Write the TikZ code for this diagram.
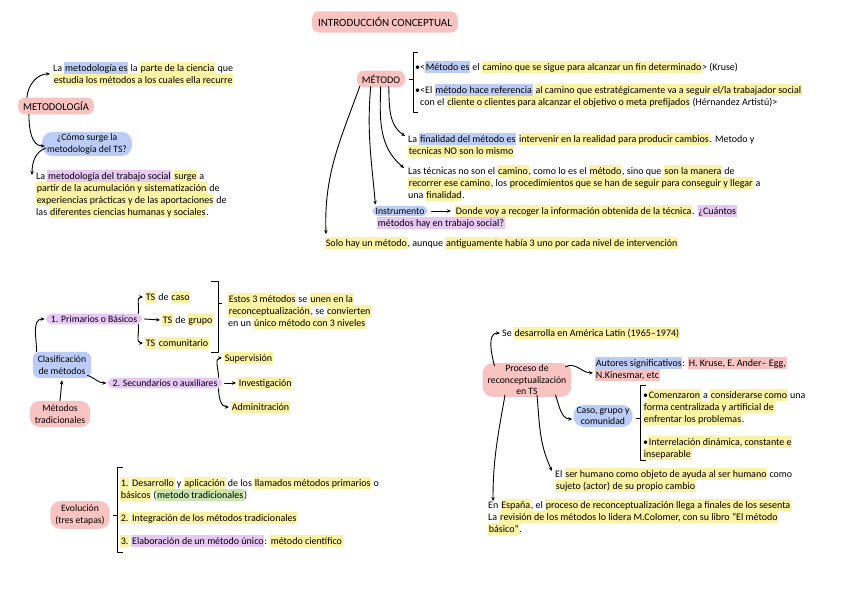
\documentclass[tikz,border=0pt]{standalone}
\usepackage{fontspec}
\setmainfont{Carlito}
\usepackage{tikz}
\usetikzlibrary{arrows.meta}
\usepackage{xcolor}

\definecolor{boxpink}{HTML}{F8C3C1}
\definecolor{boxblue}{HTML}{BBCDF7}
\definecolor{boxpurple}{HTML}{E7C7F3}
\definecolor{hlyellow}{HTML}{FBF2A4}
\definecolor{hlgreen}{HTML}{C9E6B0}

\newcommand{\hlbox}[2]{{\setlength{\fboxsep}{0.7pt}\colorbox{#1}{\vphantom{Áy}#2}}}
\newcommand{\hlY}[1]{\hlbox{hlyellow}{#1}}
\newcommand{\hlB}[1]{\hlbox{boxblue}{#1}}
\newcommand{\hlP}[1]{\hlbox{boxpurple}{#1}}
\newcommand{\hlG}[1]{\hlbox{hlgreen}{#1}}
\newcommand{\hlR}[1]{\hlbox{boxpink}{#1}}

\tikzset{
  txt/.style={inner sep=0pt, align=left, font=\fontsize{10}{12}\selectfont},
  blob/.style={rounded corners=7pt, inner xsep=5pt, inner ysep=4pt, align=center,
    font=\fontsize{9.7}{11.5}\selectfont},
  pinkbox/.style={blob, fill=boxpink},
  bluebox/.style={blob, fill=boxblue},
  purplebox/.style={blob, fill=boxpurple, inner ysep=2pt},
  conn/.style={-{Stealth[length=4pt,width=3.5pt]}, line width=0.9pt, line cap=round},
  brk/.style={line width=0.9pt, line join=round}
}

\begin{document}
\begin{tikzpicture}[x=1pt, y=-1pt]

    \useasboundingbox (0,0) rectangle (848,599);

    % ==========================================
    % TITLE AND METODOLOGIA
    % ==========================================

    \node[pinkbox, font=\fontsize{11}{13}\selectfont, inner xsep=6pt, inner ysep=6pt] (title) at (385,22) {INTRODUCCIÓN CONCEPTUAL};

    \node[pinkbox, font=\fontsize{10.5}{12}\selectfont] (metodologia) at (56,106) {METODOLOGÍA};
    \node[txt, anchor=north west] (defmet) at (53,62)
      {La \hlB{metodología es} la \hlY{parte de la ciencia} que\\
       \hlY{estudia los métodos a los cuales ella recurre}};

    \node[bluebox, rounded corners=10pt, inner ysep=2pt] (surge) at (87,144)
      {¿Cómo surge la\\metodología del TS?};
    \node[txt, anchor=north west] (surgetxt) at (36,170)
      {La \hlP{metodología del trabajo social} \hlY{surge} a\\
       \hlY{partir de la acumulación y sistematización} de\\
       \hlY{experiencias prácticas y de las aportaciones} de\\
       las \hlY{diferentes ciencias humanas y sociales}.};

    \draw[conn] ([xshift=9pt]metodologia.north west) to[out=85,in=180] ([xshift=-3pt]defmet.west);
    \draw[conn] ([xshift=11pt]metodologia.south west) to[out=-90,in=180] ([xshift=3pt,yshift=-2pt]surge.west);
    \draw[conn] ([xshift=4pt,yshift=-4pt]surge.west) to[out=200,in=90] ([xshift=-4pt,yshift=-5pt]surgetxt.north west);

    % ==========================================
    % METODO
    % ==========================================

    \node[pinkbox, font=\fontsize{10.2}{12}\selectfont] (metodo) at (381,79) {MÉTODO};

    % bracket with the two definitions
    \draw[brk] (418,52) -- (413,52) -- (413,112) -- (418,112);
    \draw[brk] (413,79) -- (409,79);

    \node[txt, anchor=west] (bulA) at (415,67)
      {•<\hlB{Método es} el \hlY{camino que se sigue para alcanzar un fin determinado}> (Kruse)};
    \node[txt, anchor=north west] (bulB) at (415,84)
      {•<El \hlB{método hace referencia} \hlY{al camino que estratégicamente va a seguir el/la trabajador social}\\
       \hspace*{5pt}con el \hlY{cliente o clientes para alcanzar el objetivo o meta prefijados} (Hérnandez Artistú)>};

    \node[txt, anchor=north west] (finalidad) at (408,133)
      {La \hlB{finalidad del método es} \hlY{intervenir en la realidad para producir cambios}. Metodo y\\
       \hlY{tecnicas NO son lo mismo}};
    \node[txt, anchor=north west] (tecnicas) at (408,165)
      {Las técnicas no son el \hlY{camino}, como lo es el \hlY{método}, sino que \hlY{son la manera} de\\
       \hlY{recorrer ese camino}, los \hlY{procedimientos que se han de seguir para conseguir y llegar} a\\
       una \hlY{finalidad}.};

    \node[bluebox, rounded corners=6pt, inner xsep=3pt, inner ysep=2pt] (instr) at (400,211) {Instrumento};
    \node[txt, anchor=west] (donde) at (455,211)
      {\hlY{Donde voy a recoger la información obtenida de la técnica}. \hlP{¿Cuántos}};
    \node[txt, anchor=west] (cuantos) at (377,223) {\hlP{métodos hay en trabajo social?}};
    \draw[conn] (instr.east) ++(4pt,0) -- ([xshift=-4pt]donde.west);

    \node[txt, anchor=west] (solo) at (325,243)
      {\hlY{Solo hay un método}, aunque \hlY{antiguamente había 3 uno por cada nivel de intervención}};

    \draw[conn] ([xshift=3pt,yshift=1pt]metodo.south west) to[out=-110,in=92] ([xshift=1pt,yshift=3pt]solo.north west);
    \draw[conn] ([xshift=14pt,yshift=1pt]metodo.south west) to[out=-95,in=95] ([xshift=3pt,yshift=1pt]instr.north west);
    \draw[conn] ([xshift=24pt,yshift=1pt]metodo.south west) to[out=-92,in=140] ([xshift=-4pt,yshift=-3pt]tecnicas.north west);
    \draw[conn] ([xshift=32pt,yshift=1pt]metodo.south west) to[out=-88,in=145] ([xshift=-3pt,yshift=-3pt]finalidad.north west);

    % ==========================================
    % CLASIFICACION DE METODOS
    % ==========================================

    \node[bluebox] (clasif) at (62,365) {Clasificación\\de métodos};
    \node[pinkbox, rounded corners=10pt] (trad) at (60,414) {Métodos\\tradicionales};
    \draw[conn] (trad.north) -- ([yshift=-2pt]clasif.south);

    \node[purplebox] (prim) at (94,319) {1. Primarios o Básicos};
    \node[txt, anchor=west] (caso) at (145,297) {\hlY{TS} de \hlY{caso}};
    \node[txt, anchor=west] (grupo) at (162,320) {\hlY{TS} de \hlY{grupo}};
    \node[txt, anchor=west] (comun) at (145,343) {\hlY{TS} \hlY{comunitario}};

    \draw[conn] ([xshift=-6pt]clasif.north west) ++(10pt,0) to[out=90,in=180] ([xshift=-1pt]prim.west);
    \draw[conn] ([xshift=-4pt]prim.north east) to[out=80,in=180] ([xshift=-2pt]caso.west);
    \draw[conn] ([xshift=2pt]prim.east) -- ([xshift=-2pt]grupo.west);
    \draw[conn] ([xshift=-4pt]prim.south east) to[out=-80,in=180] ([xshift=-2pt]comun.west);

    % bracket joining the three primary methods
    \draw[brk] (211,281) -- (218,281) -- (218,352) -- (211,352);
    \draw[brk] (218,303) -- (222,303);

    \node[txt, anchor=north west] (unen) at (228,293)
      {\hlY{Estos 3 métodos} se \hlY{unen en la}\\
       \hlY{reconceptualización}, se \hlY{convierten}\\
       en un \hlY{único método con 3 niveles}};

    \node[purplebox] (secund) at (165,383) {2. Secundarios o auxiliares};
    \node[txt, anchor=west] (superv) at (224,358) {\hlY{Supervisión}};
    \node[txt, anchor=west] (invest) at (238,383) {\hlY{Investigación}};
    \node[txt, anchor=west] (admin) at (231,407) {\hlY{Adminitración}};

    \draw[conn] ([xshift=-4pt,yshift=3pt]clasif.south east) to[out=-20,in=180] ([xshift=-1pt]secund.west);
    \draw[conn] ([xshift=-4pt]secund.north east) to[out=90,in=180] ([xshift=-2pt]superv.west);
    \draw[conn] ([xshift=2pt]secund.east) -- ([xshift=-2pt]invest.west);
    \draw[conn] ([xshift=-4pt]secund.south east) to[out=-90,in=180] ([xshift=-2pt]admin.west);

    % ==========================================
    % EVOLUCION
    % ==========================================

    \node[pinkbox, rounded corners=10pt] (evol) at (80,515) {Evolución\\(tres etapas)};

    \draw[brk] (123,467) -- (117,467) -- (117,552) -- (123,552);
    \draw[brk] (117,515) -- (113,515);

    \node[txt, anchor=north west] (etapaA) at (120,477)
      {\hlY{1.} \hlY{Desarrollo} y \hlY{aplicación} de los \hlY{llamados métodos primarios} o\\
       \hlY{básicos} (\hlG{metodo tradicionales})};
    \node[txt, anchor=west] (etapaB) at (120,518) {\hlY{2.} \hlY{Integración de los métodos tradicionales}};
    \node[txt, anchor=west] (etapaC) at (120,541)
      {\hlY{3.} \hlP{Elaboración de un método único}: \hlY{método científico}};

    % ==========================================
    % PROCESO DE RECONCEPTUALIZACION
    % ==========================================

    \node[pinkbox, rounded corners=10pt, inner ysep=2pt] (proceso) at (527,380)
      {Proceso de\\reconceptualización\\en TS};

    \node[txt, anchor=west] (latin) at (502,333) {Se \hlY{desarrolla en América Latín (1965--1974)}};
    \node[txt, anchor=north west] (autores) at (595,357)
      {\hlB{Autores significativos}: \hlR{H. Kruse, E. Ander-- Egg,}\\
       \hlR{N.Kinesmar, etc}};
    \node[bluebox, rounded corners=10pt, inner xsep=3pt, inner ysep=2pt] (cgc) at (603,416)
      {Caso, grupo y\\comunidad};

    \draw[brk] (646,385) -- (640,385) -- (640,460) -- (646,460);
    \draw[brk] (640,418) -- (636,418);

    \node[txt, anchor=north west] (comenz) at (643,389)
      {•\hlY{Comenzaron} a \hlY{considerarse como} una\\
       \hlY{forma centralizada y artificial de}\\
       \hlY{enfrentar los problemas}.};
    \node[txt, anchor=north west] (interrel) at (643,436)
      {•\hlY{Interrelación dinámica, constante e}\\
       \hlY{inseparable}};

    \node[txt, anchor=north west] (serhum) at (555,468)
      {El \hlY{ser humano como objeto de ayuda al ser humano} como\\
       \hlY{sujeto (actor) de su propio cambio}};
    \node[txt, anchor=north west] (espana) at (488,499)
      {En \hlY{España}, el \hlY{proceso de reconceptualización llega a finales de los sesenta}\\
       La \hlY{revisión de los métodos lo lidera M.Colomer, con su libro ``El método}\\
       \hlY{básico''}.};

    \draw[conn] ([xshift=12pt,yshift=-3pt]proceso.north west) to[out=105,in=180] ([xshift=-2pt]latin.west);
    \draw[conn] ([xshift=-6pt,yshift=-4pt]proceso.north east) to[out=30,in=180] ([xshift=-2pt,yshift=-4pt]autores.west);
    \draw[conn] ([xshift=-16pt,yshift=2pt]proceso.south east) to[out=-70,in=180] ([xshift=-1pt,yshift=-3pt]cgc.west);
    \draw[conn] ([xshift=10pt,yshift=2pt]proceso.south) to[out=-85,in=115] ([xshift=-3pt,yshift=-3pt]serhum.north west);
    \draw[conn] ([xshift=-22pt,yshift=2pt]proceso.south) to[out=-100,in=90] ([xshift=5pt,yshift=-2pt]espana.north west);

\end{tikzpicture}
\end{document}
